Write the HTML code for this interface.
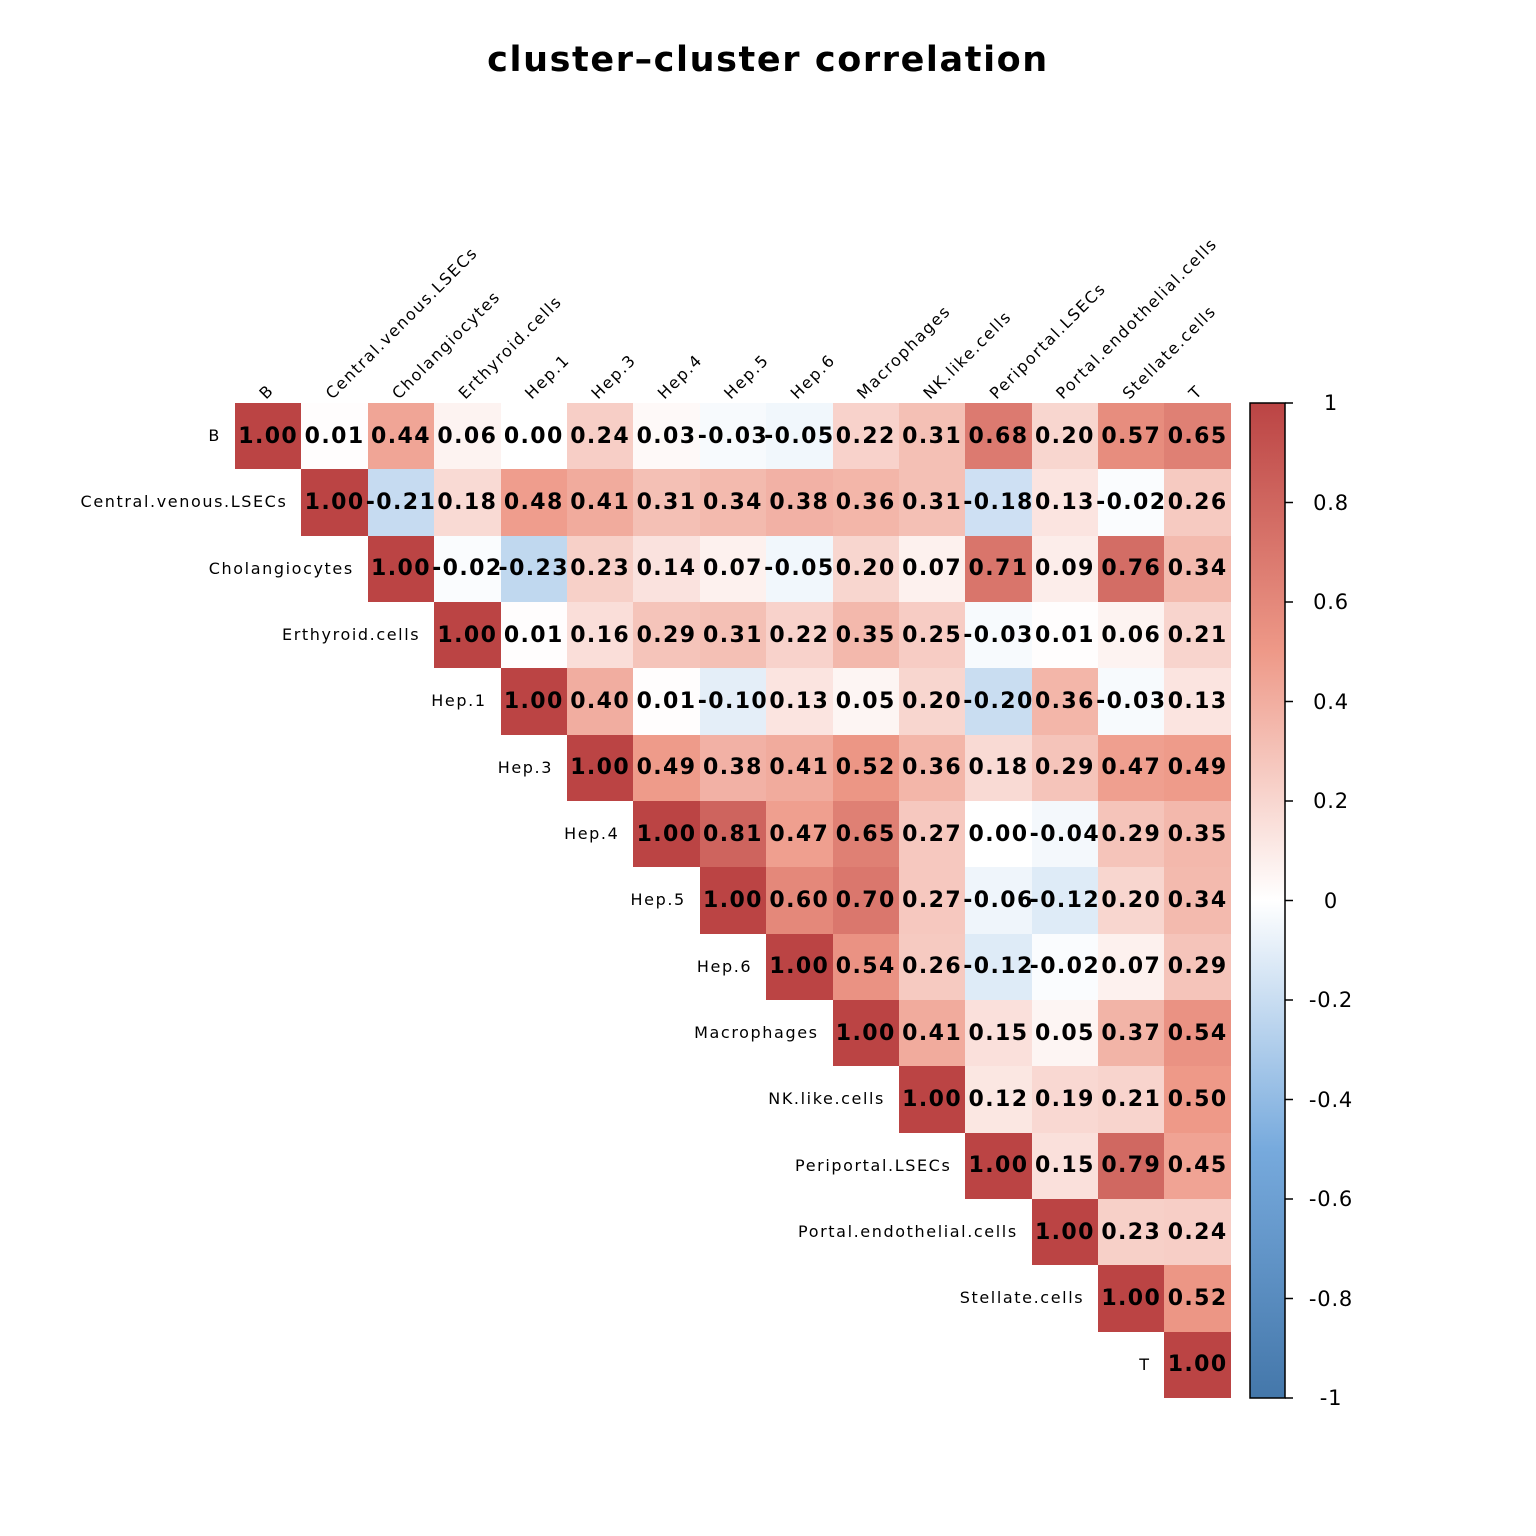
<!DOCTYPE html>
<html><head><meta charset="utf-8"><style>
body{margin:0;background:#fff;width:1536px;height:1536px;position:relative;overflow:hidden;font-family:"DejaVu Sans","Liberation Sans",sans-serif}
#title{position:absolute;left:0;width:1536px;top:40px;text-align:center;font-weight:bold;font-size:35px;letter-spacing:1.6px}
#grid{position:absolute;left:235px;top:403px;width:996px;height:995px;display:grid;grid-template-columns:repeat(15,66.4px);grid-template-rows:repeat(15,66.33px)}
#grid b{display:flex;align-items:center;justify-content:center;font-size:22px;letter-spacing:1.4px;white-space:nowrap;overflow:visible;color:#000}
#grid i{display:block}
.rl{position:absolute;left:0;height:66.33px;line-height:66.33px;text-align:right;font-size:16px;letter-spacing:1.6px;white-space:nowrap}
.cb{position:absolute;left:1331px;width:0;text-align:center;font-size:21px}
.cb span{position:absolute;transform:translate(-50%,-50%);white-space:nowrap;letter-spacing:0.8px}
</style></head><body>
<div id="title">cluster–cluster correlation</div>
<svg width="1536" height="1536" style="position:absolute;left:0;top:0">
<defs><linearGradient id="g" x1="0" y1="0" x2="0" y2="1">
<stop offset="0" stop-color="#BB4444"/><stop offset="0.25" stop-color="#EE9988"/><stop offset="0.5" stop-color="#FFFFFF"/><stop offset="0.75" stop-color="#77AADD"/><stop offset="1" stop-color="#4477AA"/></linearGradient></defs>
<rect x="1250" y="403" width="35" height="995" fill="url(#g)" stroke="#000" stroke-width="1.5"/>
<g stroke="#000" stroke-width="1.5">
<line x1="1285" x2="1293" y1="403" y2="403"/><line x1="1285" x2="1293" y1="502.5" y2="502.5"/><line x1="1285" x2="1293" y1="602" y2="602"/><line x1="1285" x2="1293" y1="701.5" y2="701.5"/><line x1="1285" x2="1293" y1="801" y2="801"/><line x1="1285" x2="1293" y1="900.5" y2="900.5"/><line x1="1285" x2="1293" y1="1000" y2="1000"/><line x1="1285" x2="1293" y1="1099.5" y2="1099.5"/><line x1="1285" x2="1293" y1="1199" y2="1199"/><line x1="1285" x2="1293" y1="1298.5" y2="1298.5"/><line x1="1285" x2="1293" y1="1398" y2="1398"/>
</g>
<g font-size="16" letter-spacing="1.6" font-family="DejaVu Sans, Liberation Sans, sans-serif">
<text x="266" y="400" transform="rotate(-45 266 400)">B</text>
<text x="332.4" y="400" transform="rotate(-45 332.4 400)">Central.venous.LSECs</text>
<text x="398.8" y="400" transform="rotate(-45 398.8 400)">Cholangiocytes</text>
<text x="465.2" y="400" transform="rotate(-45 465.2 400)">Erthyroid.cells</text>
<text x="531.6" y="400" transform="rotate(-45 531.6 400)">Hep.1</text>
<text x="598" y="400" transform="rotate(-45 598 400)">Hep.3</text>
<text x="664.4" y="400" transform="rotate(-45 664.4 400)">Hep.4</text>
<text x="730.8" y="400" transform="rotate(-45 730.8 400)">Hep.5</text>
<text x="797.2" y="400" transform="rotate(-45 797.2 400)">Hep.6</text>
<text x="863.6" y="400" transform="rotate(-45 863.6 400)">Macrophages</text>
<text x="930" y="400" transform="rotate(-45 930 400)">NK.like.cells</text>
<text x="996.4" y="400" transform="rotate(-45 996.4 400)">Periportal.LSECs</text>
<text x="1062.8" y="400" transform="rotate(-45 1062.8 400)">Portal.endothelial.cells</text>
<text x="1129.2" y="400" transform="rotate(-45 1129.2 400)">Stellate.cells</text>
<text x="1195.6" y="400" transform="rotate(-45 1195.6 400)">T</text>
</g>
</svg>
<div class="rl" style="top:403px;width:221px">B</div>
<div class="rl" style="top:469.3px;width:287.4px">Central.venous.LSECs</div>
<div class="rl" style="top:535.7px;width:353.8px">Cholangiocytes</div>
<div class="rl" style="top:602px;width:420.2px">Erthyroid.cells</div>
<div class="rl" style="top:668.3px;width:486.6px">Hep.1</div>
<div class="rl" style="top:734.7px;width:553px">Hep.3</div>
<div class="rl" style="top:801px;width:619.4px">Hep.4</div>
<div class="rl" style="top:867.3px;width:685.8px">Hep.5</div>
<div class="rl" style="top:933.6px;width:752.2px">Hep.6</div>
<div class="rl" style="top:1000px;width:818.6px">Macrophages</div>
<div class="rl" style="top:1066.3px;width:885px">NK.like.cells</div>
<div class="rl" style="top:1132.6px;width:951.4px">Periportal.LSECs</div>
<div class="rl" style="top:1199px;width:1017.8px">Portal.endothelial.cells</div>
<div class="rl" style="top:1265.3px;width:1084.2px">Stellate.cells</div>
<div class="rl" style="top:1331.6px;width:1150.6px">T</div>
<div id="grid">
<b>1.00</b><b>0.01</b><b>0.44</b><b>0.06</b><b>0.00</b><b>0.24</b><b>0.03</b><b>-0.03</b><b>-0.05</b><b>0.22</b><b>0.31</b><b>0.68</b><b>0.20</b><b>0.57</b><b>0.65</b>
<i></i><b>1.00</b><b>-0.21</b><b>0.18</b><b>0.48</b><b>0.41</b><b>0.31</b><b>0.34</b><b>0.38</b><b>0.36</b><b>0.31</b><b>-0.18</b><b>0.13</b><b>-0.02</b><b>0.26</b>
<i></i><i></i><b>1.00</b><b>-0.02</b><b>-0.23</b><b>0.23</b><b>0.14</b><b>0.07</b><b>-0.05</b><b>0.20</b><b>0.07</b><b>0.71</b><b>0.09</b><b>0.76</b><b>0.34</b>
<i></i><i></i><i></i><b>1.00</b><b>0.01</b><b>0.16</b><b>0.29</b><b>0.31</b><b>0.22</b><b>0.35</b><b>0.25</b><b>-0.03</b><b>0.01</b><b>0.06</b><b>0.21</b>
<i></i><i></i><i></i><i></i><b>1.00</b><b>0.40</b><b>0.01</b><b>-0.10</b><b>0.13</b><b>0.05</b><b>0.20</b><b>-0.20</b><b>0.36</b><b>-0.03</b><b>0.13</b>
<i></i><i></i><i></i><i></i><i></i><b>1.00</b><b>0.49</b><b>0.38</b><b>0.41</b><b>0.52</b><b>0.36</b><b>0.18</b><b>0.29</b><b>0.47</b><b>0.49</b>
<i></i><i></i><i></i><i></i><i></i><i></i><b>1.00</b><b>0.81</b><b>0.47</b><b>0.65</b><b>0.27</b><b>0.00</b><b>-0.04</b><b>0.29</b><b>0.35</b>
<i></i><i></i><i></i><i></i><i></i><i></i><i></i><b>1.00</b><b>0.60</b><b>0.70</b><b>0.27</b><b>-0.06</b><b>-0.12</b><b>0.20</b><b>0.34</b>
<i></i><i></i><i></i><i></i><i></i><i></i><i></i><i></i><b>1.00</b><b>0.54</b><b>0.26</b><b>-0.12</b><b>-0.02</b><b>0.07</b><b>0.29</b>
<i></i><i></i><i></i><i></i><i></i><i></i><i></i><i></i><i></i><b>1.00</b><b>0.41</b><b>0.15</b><b>0.05</b><b>0.37</b><b>0.54</b>
<i></i><i></i><i></i><i></i><i></i><i></i><i></i><i></i><i></i><i></i><b>1.00</b><b>0.12</b><b>0.19</b><b>0.21</b><b>0.50</b>
<i></i><i></i><i></i><i></i><i></i><i></i><i></i><i></i><i></i><i></i><i></i><b>1.00</b><b>0.15</b><b>0.79</b><b>0.45</b>
<i></i><i></i><i></i><i></i><i></i><i></i><i></i><i></i><i></i><i></i><i></i><i></i><b>1.00</b><b>0.23</b><b>0.24</b>
<i></i><i></i><i></i><i></i><i></i><i></i><i></i><i></i><i></i><i></i><i></i><i></i><i></i><b>1.00</b><b>0.52</b>
<i></i><i></i><i></i><i></i><i></i><i></i><i></i><i></i><i></i><i></i><i></i><i></i><i></i><i></i><b>1.00</b>
</div>
<div class="cb" style="top:0">
<span style="top:403px">1</span><span style="top:502.5px">0.8</span><span style="top:602px">0.6</span><span style="top:701.5px">0.4</span><span style="top:801px">0.2</span><span style="top:900.5px">0</span><span style="top:1000px">-0.2</span><span style="top:1099.5px">-0.4</span><span style="top:1199px">-0.6</span><span style="top:1298.5px">-0.8</span><span style="top:1398px">-1</span>
</div>
<script>
function col(v){var a,b,t;
if(v>=0.5){a=[238,153,136];b=[187,68,68];t=(v-0.5)/0.5}
else if(v>=0){a=[255,255,255];b=[238,153,136];t=v/0.5}
else if(v>=-0.5){a=[255,255,255];b=[119,170,221];t=-v/0.5}
else{a=[119,170,221];b=[68,119,170];t=(-v-0.5)/0.5}
return 'rgb('+a.map(function(x,i){return Math.round(x+(b[i]-x)*t)}).join(',')+')';}
document.querySelectorAll('#grid b').forEach(function(e){e.style.background=col(parseFloat(e.textContent));});
</script>
</body></html>
